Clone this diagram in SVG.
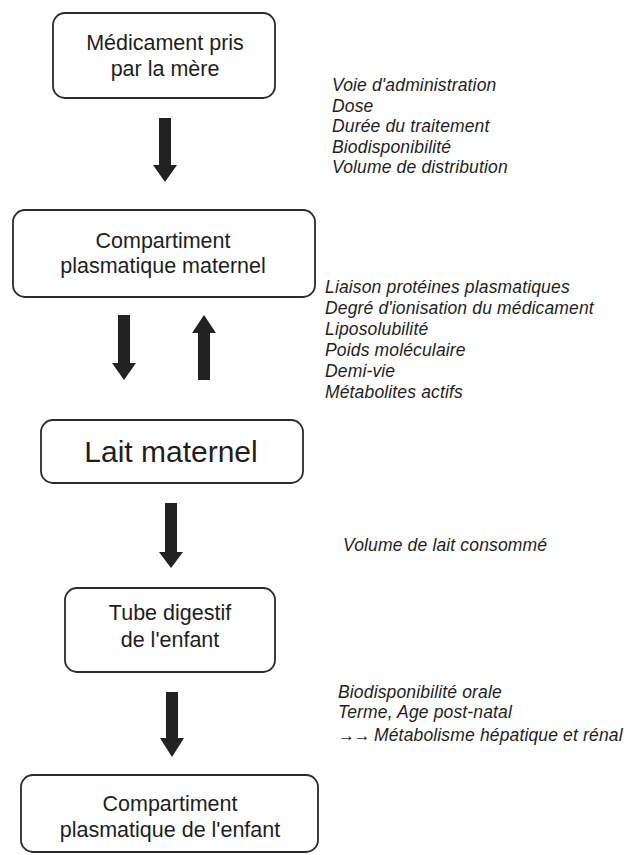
<svg xmlns="http://www.w3.org/2000/svg" width="624" height="855" viewBox="0 0 624 855">
<style>
.box{fill:#fff;stroke:#2a2a2a;stroke-width:1.8}
.t{font-family:"Liberation Sans",Arial,sans-serif;font-size:21.5px;fill:#1e1e1e;text-anchor:middle}
.big{font-size:30px}
.n{font-family:"Liberation Sans",Arial,sans-serif;font-size:17.5px;letter-spacing:0.15px;font-style:italic;fill:#1e1e1e}
.ar{fill:#222}
</style>
<rect width="624" height="855" fill="#fff"/>
<g id="connectors">
<polygon class="ar" points="159,118 171,118 171,165 177,165 165,182 153,165 159,165"/>
<polygon class="ar" points="118,315 130,315 130,363 136,363 124,380 112,363 118,363"/>
<polygon class="ar" points="198,380 210,380 210,333 216,333 204,315 192,333 198,333"/>
<polygon class="ar" points="165,503 177,503 177,552 183,552 171,568 159,552 165,552"/>
<polygon class="ar" points="166,692 178,692 178,738 184,738 172,757 160,738 166,738"/>
</g>
<g id="n1">
<rect class="box" x="53" y="13" width="222" height="85" rx="12"/>
<text class="t" x="165" y="50">Médicament pris</text>
<text class="t" x="165" y="76">par la mère</text>
</g>
<g id="n2">
<rect class="box" x="13" y="210" width="302" height="87" rx="12"/>
<text class="t" x="163" y="248">Compartiment</text>
<text class="t" x="163" y="273">plasmatique maternel</text>
</g>
<g id="n3">
<rect class="box" x="41" y="420" width="262" height="63" rx="12"/>
<text class="t big" x="171" y="462">Lait maternel</text>
</g>
<g id="n4">
<rect class="box" x="65" y="588" width="210" height="84" rx="12"/>
<text class="t" x="170" y="620">Tube digestif</text>
<text class="t" x="170" y="647">de l'enfant</text>
</g>
<g id="n5">
<rect class="box" x="21" y="775" width="297" height="77" rx="12"/>
<text class="t" x="170" y="811">Compartiment</text>
<text class="t" x="170" y="837">plasmatique de l'enfant</text>
</g>
<g id="notes">
<text class="n" x="332" y="91">Voie d'administration</text>
<text class="n" x="332" y="111.5">Dose</text>
<text class="n" x="332" y="132">Durée du traitement</text>
<text class="n" x="332" y="152.5">Biodisponibilité</text>
<text class="n" x="332" y="173">Volume de distribution</text>
<text class="n" x="325" y="293">Liaison protéines plasmatiques</text>
<text class="n" x="325" y="314">Degré d'ionisation du médicament</text>
<text class="n" x="325" y="335">Liposolubilité</text>
<text class="n" x="325" y="356">Poids moléculaire</text>
<text class="n" x="325" y="377">Demi-vie</text>
<text class="n" x="325" y="398">Métabolites actifs</text>
<text class="n" x="343" y="551">Volume de lait consommé</text>
<text class="n" x="338" y="698">Biodisponibilité orale</text>
<text class="n" x="338" y="718">Terme, Age post-natal</text>
<text class="n" x="338" y="741"><tspan font-style="normal" font-size="17px" letter-spacing="-1.5px">→→</tspan> Métabolisme hépatique et rénal</text>
</g>
</svg>
